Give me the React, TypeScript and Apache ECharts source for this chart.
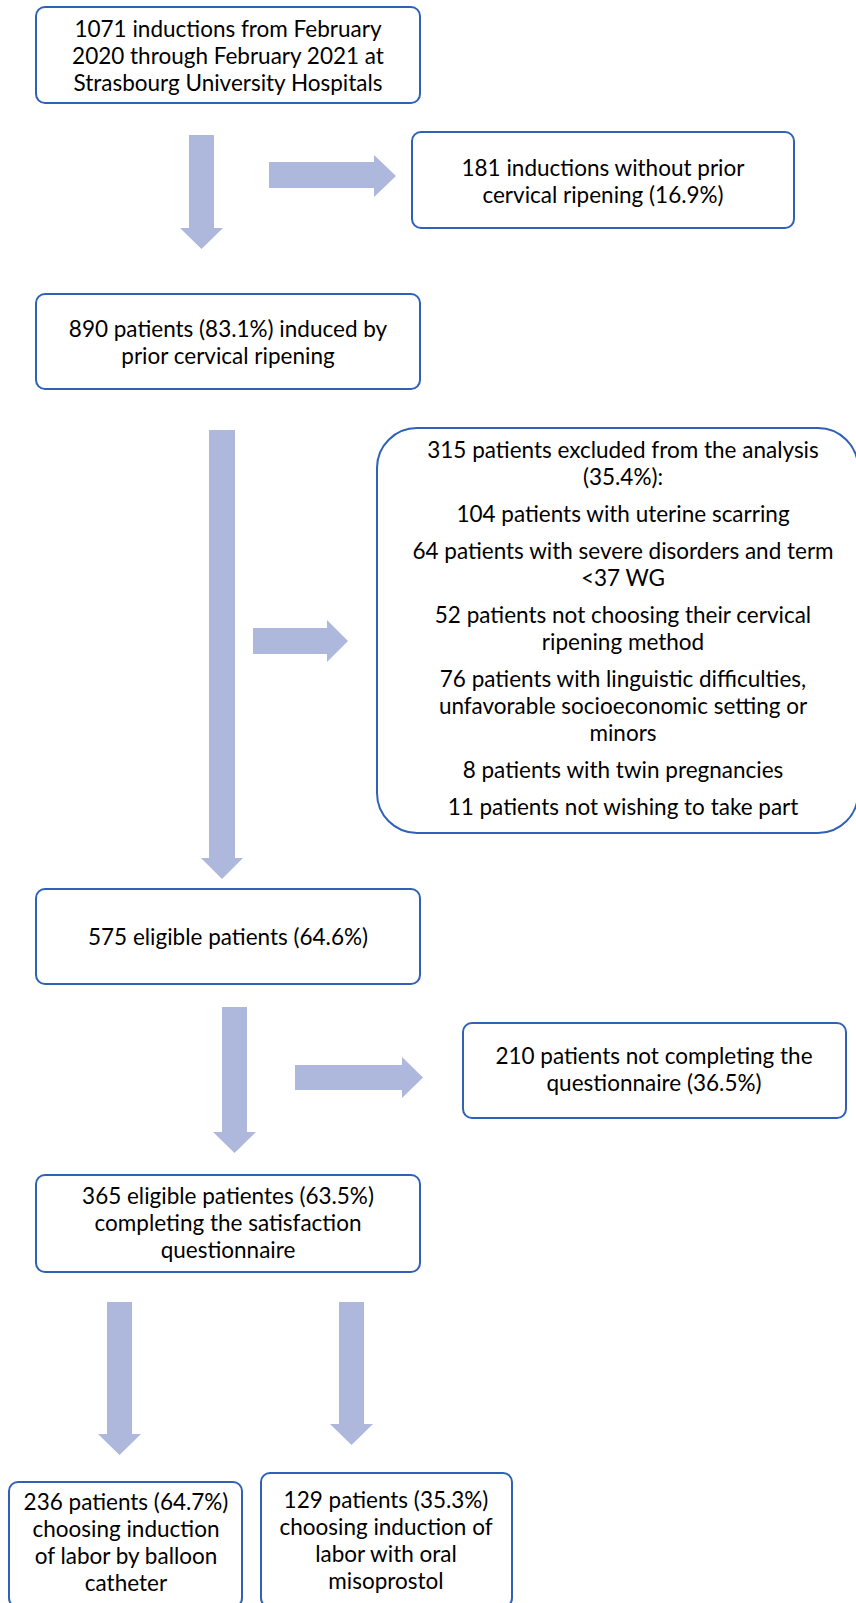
import React, { useEffect, useRef } from "react";
import * as echarts from "echarts";

// ---- content (text of each box, as lines / paragraphs) ----
const box1Lines = [
  "1071 inductions from February",
  "2020 through February 2021 at",
  "Strasbourg University Hospitals",
];
const box2Lines = ["181 inductions without prior", "cervical ripening (16.9%)"];
const box3Lines = ["890 patients (83.1%) induced by", "prior cervical ripening"];
const box4Paragraphs = [
  ["315 patients excluded from the analysis", "(35.4%):"],
  ["104 patients with uterine scarring"],
  ["64 patients with severe disorders and term", "<37 WG"],
  ["52 patients not choosing their cervical", "ripening method"],
  [
    "76 patients with linguistic difficulties,",
    "unfavorable socioeconomic setting or",
    "minors",
  ],
  ["8 patients with twin pregnancies"],
  ["11 patients not wishing to take part"],
];
const box5Lines = ["575 eligible patients (64.6%)"];
const box6Lines = ["210 patients not completing the", "questionnaire (36.5%)"];
const box7Lines = [
  "365 eligible patientes (63.5%)",
  "completing the satisfaction",
  "questionnaire",
];
const box8Lines = [
  "236 patients (64.7%)",
  "choosing induction",
  "of labor by balloon",
  "catheter",
];
const box9Lines = [
  "129 patients (35.3%)",
  "choosing induction of",
  "labor with oral",
  "misoprostol",
];

// ---- layout ----
const FONT = "Lato";
const FS = 22.5;
const LH = 27;
const PARA_GAP = 37;
const BORDER = "#2f62b6";
const ARROW = "#adb8dc";

type Box = { x: number; y: number; w: number; h: number; r: number; cx: number; y0: number; paras: string[][] };

function buildBox(b: Box, out: any[]) {
  out.push({
    type: "rect",
    shape: { x: b.x, y: b.y, width: b.w, height: b.h, r: b.r },
    style: { fill: "#ffffff", stroke: BORDER, lineWidth: 2 },
    z: 2,
  });
  let y = b.y0;
  b.paras.forEach((p, pi) => {
    if (pi > 0) y += PARA_GAP;
    p.forEach((line, li) => {
      if (li > 0) y += LH;
      out.push({
        type: "text",
        z: 3,
        style: {
          text: line,
          x: b.cx,
          y: y,
          align: "center",
          verticalAlign: "middle",
          font: `${FS}px ${FONT}`,
          fill: "#000000",
        },
      });
    });
  });
}

function downArrow(x1: number, x2: number, y0: number, h1: number, h2: number, yh: number, yt: number) {
  const cx = (h1 + h2) / 2;
  return {
    type: "polygon",
    z: 1,
    shape: {
      points: [
        [x1, y0], [x2, y0], [x2, yh], [h2, yh], [cx, yt], [h1, yh], [x1, yh],
      ],
    },
    style: { fill: ARROW },
  };
}

function rightArrow(y1: number, y2: number, x0: number, h1: number, h2: number, xh: number, xt: number) {
  const cy = (h1 + h2) / 2;
  return {
    type: "polygon",
    z: 1,
    shape: {
      points: [
        [x0, y1], [xh, y1], [xh, h1], [xt, cy], [xh, h2], [xh, y2], [x0, y2],
      ],
    },
    style: { fill: ARROW },
  };
}

export default function App() {
  const ref = useRef<HTMLDivElement>(null);
  useEffect(() => {
    document.body.style.margin = "0";
    const chart = echarts.init(ref.current!, null, { renderer: "svg" });
    const els: any[] = [];
    const boxes: Box[] = [
      { x: 36, y: 7, w: 384, h: 96, r: 9, cx: 228, y0: 28, paras: [box1Lines] },
      { x: 412, y: 132, w: 382, h: 96, r: 9, cx: 603, y0: 167, paras: [box2Lines] },
      { x: 36, y: 294, w: 384, h: 95, r: 9, cx: 228, y0: 328, paras: [box3Lines] },
      { x: 377, y: 428, w: 481, h: 405, r: 40, cx: 623, y0: 449, paras: box4Paragraphs },
      { x: 36, y: 889, w: 384, h: 95, r: 9, cx: 228, y0: 936, paras: [box5Lines] },
      { x: 463, y: 1023, w: 383, h: 95, r: 9, cx: 654, y0: 1055, paras: [box6Lines] },
      { x: 36, y: 1175, w: 384, h: 97, r: 9, cx: 228, y0: 1195, paras: [box7Lines] },
      { x: 9, y: 1482, w: 233, h: 125, r: 9, cx: 126, y0: 1501, paras: [box8Lines] },
      { x: 261, y: 1473, w: 251, h: 134, r: 9, cx: 386, y0: 1499, paras: [box9Lines] },
    ];
    boxes.forEach((b) => buildBox(b, els));

    els.push(downArrow(189, 214, 135, 180, 223, 228, 249));
    els.push(rightArrow(162, 188, 269, 155, 197, 374, 396));
    els.push(downArrow(209, 235, 430, 201, 243, 858, 879));
    els.push(rightArrow(628, 654, 253, 620, 662, 327, 348));
    els.push(downArrow(222, 247, 1007, 213, 256, 1132, 1153));
    els.push(rightArrow(1065, 1090, 295, 1057, 1098, 402, 423));
    els.push(downArrow(107, 132, 1302, 98, 141, 1434, 1455));
    els.push(downArrow(339, 364, 1302, 330, 373, 1424, 1445));

    chart.setOption({
      animation: false,
      backgroundColor: "#ffffff",
      graphic: { elements: els },
    });
    return () => chart.dispose();
  }, []);
  return <div ref={ref} style={{ width: 856, height: 1603 }} />;
}
